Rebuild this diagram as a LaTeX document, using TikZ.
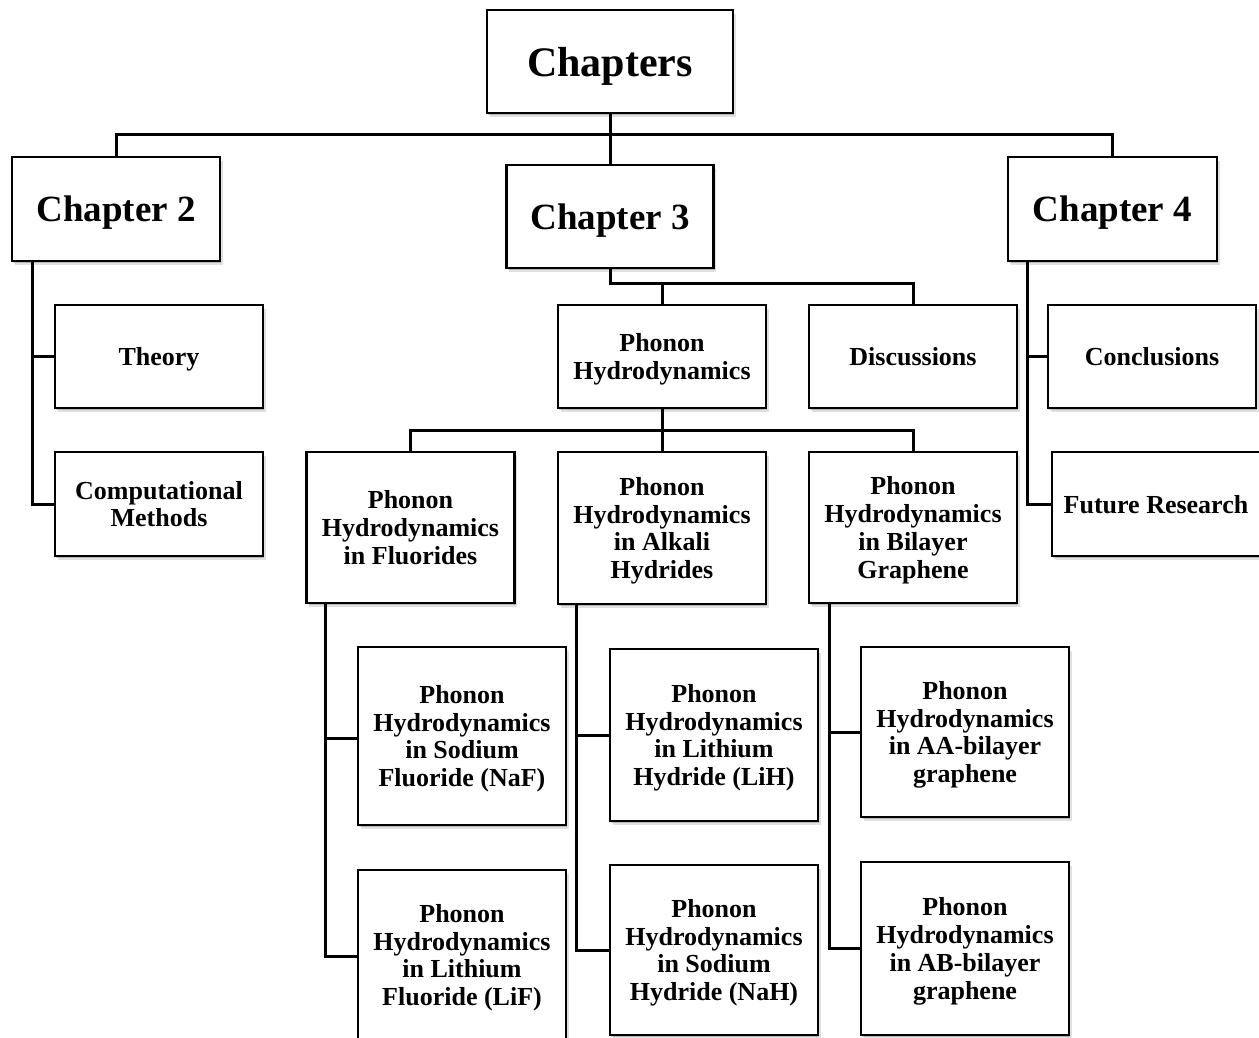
\documentclass[tikz,border=0pt]{standalone}
\usepackage{fontspec}
\setmainfont{Liberation Serif}
\usetikzlibrary{shadows}
\begin{document}
\begin{tikzpicture}[x=1pt,y=-1pt,
  box/.style={draw=black, line width=2.8pt, fill=white, align=center, inner sep=2pt,
    text depth=0pt,
    font=\fontsize{26}{27.8}\selectfont\bfseries,
    drop shadow={shadow xshift=1pt, shadow yshift=-2pt, opacity=0.18, fill=black},
    drop shadow={shadow xshift=2.5pt, shadow yshift=-4pt, opacity=0.12, fill=black}},
  bigbox/.style={box, font=\fontsize{37}{40}\selectfont\bfseries},
  topbox/.style={box, font=\fontsize{42}{45}\selectfont\bfseries},
  link/.style={draw=black, line width=3pt}]
\useasboundingbox (0,0) rectangle (1259,1038);
\clip (0,0) rectangle (1259,1038);
\fill[white] (0,0) rectangle (1259,1038);

\coordinate (bar1) at (610,135);
\coordinate (bar3) at (610,283);
\coordinate (barph) at (662,430);

\node[topbox, minimum width=246pt, minimum height=103pt] (chs) at (610,61.5) {Chapters};
\node[bigbox, minimum width=208pt, minimum height=104pt] (ch2) at (116,209) {Chapter 2};
\node[bigbox, minimum width=207pt, minimum height=103pt] (ch3) at (610,216.5) {Chapter 3};
\node[bigbox, minimum width=209pt, minimum height=104pt] (ch4) at (1112.5,209) {Chapter 4};

\node[box, minimum width=208pt, minimum height=103pt] (theory) at (159,356.5) {Theory};
\node[box, minimum width=208pt, minimum height=104pt] (comp) at (159,504) {Computational\\Methods};

\node[box, minimum width=208pt, minimum height=103pt] (ph) at (662,356.5) {Phonon\\Hydrodynamics};
\node[box, minimum width=208pt, minimum height=103pt] (disc) at (913,356.5) {Discussions};

\node[box, minimum width=208pt, minimum height=103pt] (concl) at (1152,356.5) {Conclusions};
\node[box, minimum width=208pt, minimum height=104pt] (fut) at (1156,504) {Future Research};

\node[box, minimum width=208pt, minimum height=151pt] (fl) at (410.5,527.5) {Phonon\\Hydrodynamics\\in Fluorides};
\node[box, minimum width=208pt, minimum height=152pt] (al) at (662,528) {Phonon\\Hydrodynamics\\in Alkali\\Hydrides};
\node[box, minimum width=208pt, minimum height=151pt] (bl) at (913,527.5) {Phonon\\Hydrodynamics\\in Bilayer\\Graphene};

\node[box, minimum width=208pt, minimum height=178pt] (naf) at (462,736) {Phonon\\Hydrodynamics\\in Sodium\\Fluoride (NaF)};
\node[box, minimum width=208pt, minimum height=170pt] (lif) at (462,955) {Phonon\\Hydrodynamics\\in Lithium\\Fluoride (LiF)};
\node[box, minimum width=208pt, minimum height=172pt] (lih) at (714,735) {Phonon\\Hydrodynamics\\in Lithium\\Hydride (LiH)};
\node[box, minimum width=208pt, minimum height=170pt] (nah) at (714,950) {Phonon\\Hydrodynamics\\in Sodium\\Hydride (NaH)};
\node[box, minimum width=208pt, minimum height=170pt] (aa) at (965,732) {Phonon\\Hydrodynamics\\in AA-bilayer\\graphene};
\node[box, minimum width=208pt, minimum height=173pt] (ab) at (965,948.5) {Phonon\\Hydrodynamics\\in AB-bilayer\\graphene};

\coordinate (t2) at ([xshift=22pt]ch2.south west);
\coordinate (t4) at ([xshift=21pt]ch4.south west);
\coordinate (tf) at ([xshift=20.5pt]fl.south west);
\coordinate (ta) at ([xshift=20pt]al.south west);
\coordinate (tb) at ([xshift=22pt]bl.south west);

% level 1
\draw[link] (chs.south) -- (chs.south |- bar1);
\draw[link] (ch2.north) -- (ch2.north |- bar1) -- (ch4.north |- bar1) -- (ch4.north);
\draw[link] (ch3.north) -- (ch3.north |- bar1);
% chapter 3
\draw[link] (ch3.south) -- (ch3.south |- bar3) -- (disc.north |- bar3) -- (disc.north);
\draw[link] (ph.north) -- (ph.north |- bar3);
% phonon hydrodynamics
\draw[link] (ph.south) -- (ph.south |- barph);
\draw[link] (fl.north) -- (fl.north |- barph) -- (bl.north |- barph) -- (bl.north);
\draw[link] (al.north) -- (al.north |- barph);
% chapter 2
\draw[link] (t2) |- (comp.west);
\draw[link] (theory.west) -- (theory.west -| t2);
% chapter 4
\draw[link] (t4) |- (fut.west);
\draw[link] (concl.west) -- (concl.west -| t4);
% fluorides
\draw[link] (tf) |- ([yshift=-1pt]lif.west);
\draw[link] ([yshift=-2pt]naf.west) -- ([yshift=-2pt]naf.west -| tf);
% alkali
\draw[link] (ta) |- (nah.west);
\draw[link] (lih.west) -- (lih.west -| ta);
% bilayer
\draw[link] (tb) |- (ab.west);
\draw[link] (aa.west) -- (aa.west -| tb);
\end{tikzpicture}
\end{document}
